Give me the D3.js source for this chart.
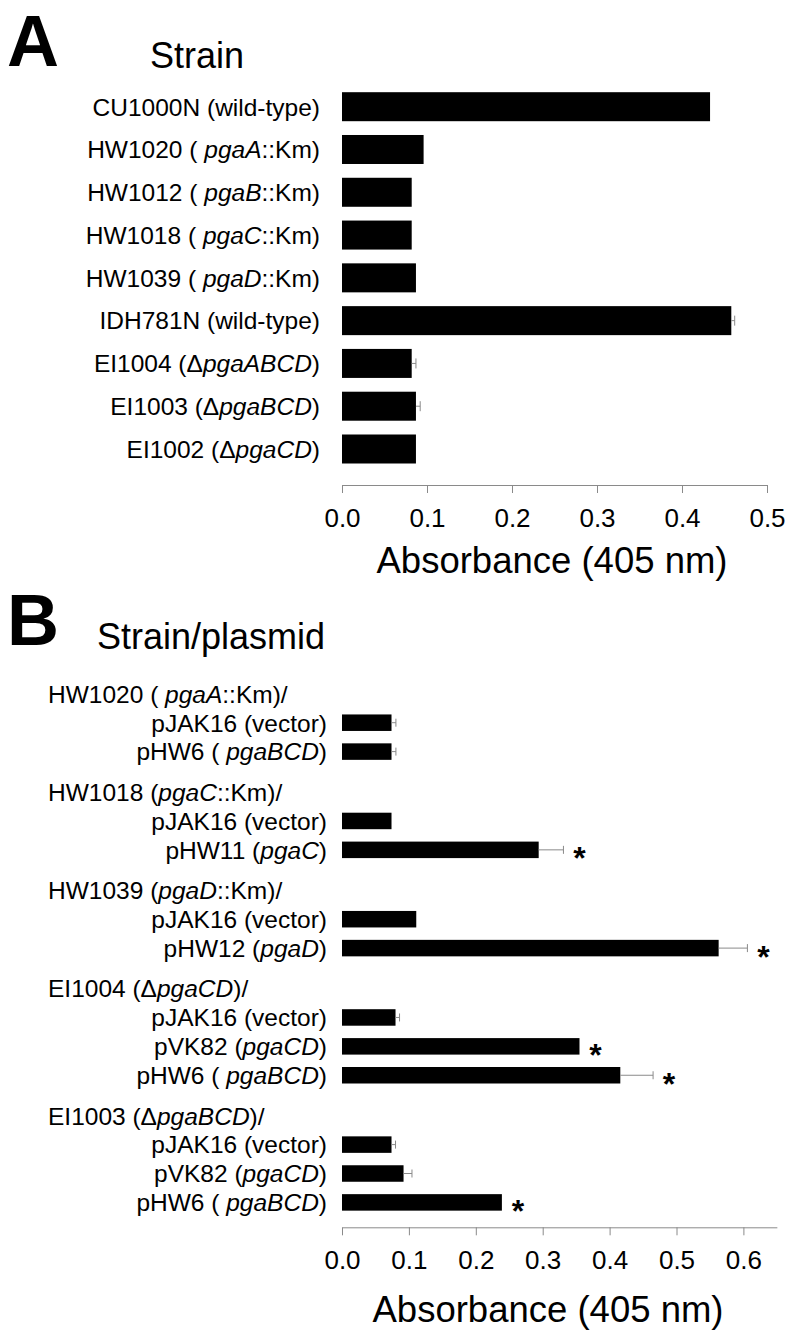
<!DOCTYPE html>
<html>
<head>
<meta charset="utf-8">
<script src="https://cdn.jsdelivr.net/npm/d3@7/dist/d3.min.js"></script>
<style>
  html, body { margin: 0; padding: 0; background: #fff; }
  svg { display: block; font-family: "Liberation Sans", Arial, Helvetica, sans-serif; }
</style>
</head>
<body>
<script>
// ---------- Panel A data ----------
const aLabels = [
  "CU1000N (wild-type)",
  "HW1020 ( <i>pgaA</i>::Km)",
  "HW1012 ( <i>pgaB</i>::Km)",
  "HW1018 ( <i>pgaC</i>::Km)",
  "HW1039 ( <i>pgaD</i>::Km)",
  "IDH781N (wild-type)",
  "EI1004 (Δ<i>pgaABCD</i>)",
  "EI1003 (Δ<i>pgaBCD</i>)",
  "EI1002 (Δ<i>pgaCD</i>)"
];
const aValues = [0.433, 0.096, 0.082, 0.082, 0.087, 0.458, 0.082, 0.087, 0.087];
const aErrors = [0, 0, 0, 0, 0, 0.004, 0.005, 0.005, 0];
const aTicks = [0.0, 0.1, 0.2, 0.3, 0.4, 0.5];

// ---------- Panel B data ----------
const bGroupHeaders = [
  "HW1020 ( <i>pgaA</i>::Km)/",
  "HW1018 (<i>pgaC</i>::Km)/",
  "HW1039 (<i>pgaD</i>::Km)/",
  "EI1004 (Δ<i>pgaCD</i>)/",
  "EI1003 (Δ<i>pgaBCD</i>)/"
];
const bGroupOf = [0, 0, 1, 1, 2, 2, 3, 3, 3, 4, 4, 4];
const bLabels = [
  "pJAK16 (vector)", "pHW6 ( <i>pgaBCD</i>)",
  "pJAK16 (vector)", "pHW11 (<i>pgaC</i>)",
  "pJAK16 (vector)", "pHW12 (<i>pgaD</i>)",
  "pJAK16 (vector)", "pVK82 (<i>pgaCD</i>)", "pHW6 ( <i>pgaBCD</i>)",
  "pJAK16 (vector)", "pVK82 (<i>pgaCD</i>)", "pHW6 ( <i>pgaBCD</i>)"
];
const bValues = [0.074, 0.074, 0.074, 0.294, 0.111, 0.563, 0.080, 0.355, 0.416, 0.074, 0.092, 0.239];
const bErrors = [0.0066, 0.0066, 0, 0.037, 0, 0.043, 0.006, 0, 0.049, 0.006, 0.0126, 0];
const bSignificant = [false, false, false, true, false, true, false, true, true, false, false, true];
const bTicks = [0.0, 0.1, 0.2, 0.3, 0.4, 0.5, 0.6];

// ---------- helpers ----------
const W = 800, H = 1342;
const svg = d3.select("body").append("svg").attr("width", W).attr("height", H);

function richText(sel, str) {
  const parts = str.split(/(<i>.*?<\/i>)/).filter(s => s.length);
  parts.forEach(p => {
    const it = p.startsWith("<i>");
    sel.append("tspan")
      .attr("font-style", it ? "italic" : "normal")
      .text(it ? p.slice(3, -4) : p);
  });
}

const labelSize = 24.5;
const gray = "#8a8a8a";

// ---------- Panel A ----------
const xA = d3.scaleLinear().domain([0, 0.5]).range([342, 767]);
const yA = d3.scalePoint().domain(d3.range(aLabels.length)).range([106.7, 449]);
const barHA = 29;

svg.append("text").attr("x", 7).attr("y", 66).attr("font-size", 72).attr("font-weight", "bold").text("A");
svg.append("text").attr("x", 150).attr("y", 68).attr("font-size", 36).text("Strain");

const gA = svg.append("g");
gA.selectAll("rect").data(aValues).join("rect")
  .attr("x", xA(0)).attr("y", (d, i) => yA(i) - barHA / 2)
  .attr("width", d => xA(d) - xA(0)).attr("height", barHA)
  .attr("fill", "#000");

aErrors.forEach((e, i) => {
  if (!e) return;
  const y = yA(i);
  gA.append("line").attr("x1", xA(aValues[i])).attr("x2", xA(aValues[i] + e))
    .attr("y1", y).attr("y2", y).attr("stroke", gray).attr("stroke-width", 1);
  gA.append("line").attr("x1", xA(aValues[i] + e)).attr("x2", xA(aValues[i] + e))
    .attr("y1", y - 5).attr("y2", y + 5).attr("stroke", gray).attr("stroke-width", 1);
});

aLabels.forEach((l, i) => {
  const t = gA.append("text").attr("x", 320).attr("y", yA(i)).attr("dy", "0.36em")
    .attr("text-anchor", "end").attr("font-size", labelSize);
  richText(t, l);
});

function styleAxis(g) {
  g.select(".domain").attr("stroke", gray).attr("stroke-width", 1);
  g.selectAll(".tick line").attr("stroke", gray).attr("stroke-width", 1);
  g.selectAll(".tick text").attr("font-size", 26).attr("fill", "#000")
    .attr("font-family", "'Liberation Sans', Arial, Helvetica, sans-serif");
}

const axA = svg.append("g").attr("transform", "translate(0,485)")
  .call(d3.axisBottom(xA).tickValues(aTicks).tickFormat(d3.format(".1f"))
    .tickSize(8).tickSizeOuter(0).tickPadding(15.5));
styleAxis(axA);
svg.append("text").attr("x", 552).attr("y", 573).attr("text-anchor", "middle")
  .attr("font-size", 36.5).text("Absorbance (405 nm)");

// ---------- Panel B ----------
svg.append("text").attr("x", 7).attr("y", 645).attr("font-size", 72).attr("font-weight", "bold").text("B");
svg.append("text").attr("x", 97).attr("y", 649).attr("font-size", 36).text("Strain/plasmid");

// slot layout: each group = header slot + bar slots, plus extra gap between groups
const groupGap = 0.4;
const barSlots = [];
const headerSlots = [];
{
  let s = 0, prev = -1;
  bGroupOf.forEach((g, i) => {
    if (g !== prev) {
      if (prev !== -1) s += groupGap;
      headerSlots.push(s);
      s += 1;
      prev = g;
    }
    barSlots.push(s);
    s += 1;
  });
}
const yB = d3.scaleLinear().domain([1, 17.6]).range([722.7, 1202.4]);
const xB = d3.scaleLinear().domain([0, 0.65]).range([342, 342 + 0.65 * 669]);
const barHB = 16.5;

const gB = svg.append("g");
gB.selectAll("rect").data(bValues).join("rect")
  .attr("x", xB(0)).attr("y", (d, i) => yB(barSlots[i]) - barHB / 2)
  .attr("width", d => xB(d) - xB(0)).attr("height", barHB)
  .attr("fill", "#000");

bErrors.forEach((e, i) => {
  if (!e) return;
  const y = yB(barSlots[i]);
  gB.append("line").attr("x1", xB(bValues[i])).attr("x2", xB(bValues[i] + e))
    .attr("y1", y).attr("y2", y).attr("stroke", gray).attr("stroke-width", 1);
  gB.append("line").attr("x1", xB(bValues[i] + e)).attr("x2", xB(bValues[i] + e))
    .attr("y1", y - 4).attr("y2", y + 4).attr("stroke", gray).attr("stroke-width", 1);
});

bSignificant.forEach((s, i) => {
  if (!s) return;
  const end = xB(bValues[i] + bErrors[i]);
  gB.append("text").attr("x", end + 16).attr("y", yB(barSlots[i]) + 2.5 + 17)
    .attr("text-anchor", "middle").attr("font-size", 32).attr("font-weight", "bold").text("*");
});

bGroupHeaders.forEach((h, gi) => {
  const t = gB.append("text").attr("x", 48).attr("y", yB(headerSlots[gi])).attr("dy", "0.36em")
    .attr("font-size", labelSize);
  richText(t, h);
});
bLabels.forEach((l, i) => {
  const t = gB.append("text").attr("x", 327).attr("y", yB(barSlots[i])).attr("dy", "0.36em")
    .attr("text-anchor", "end").attr("font-size", labelSize);
  richText(t, l);
});

const axB = svg.append("g").attr("transform", "translate(0,1227.3)")
  .call(d3.axisBottom(xB).tickValues(bTicks).tickFormat(d3.format(".1f"))
    .tickSize(8).tickSizeOuter(0).tickPadding(15.5));
styleAxis(axB);
svg.append("text").attr("x", 548).attr("y", 1322).attr("text-anchor", "middle")
  .attr("font-size", 36.5).text("Absorbance (405 nm)");
</script>
</body>
</html>
